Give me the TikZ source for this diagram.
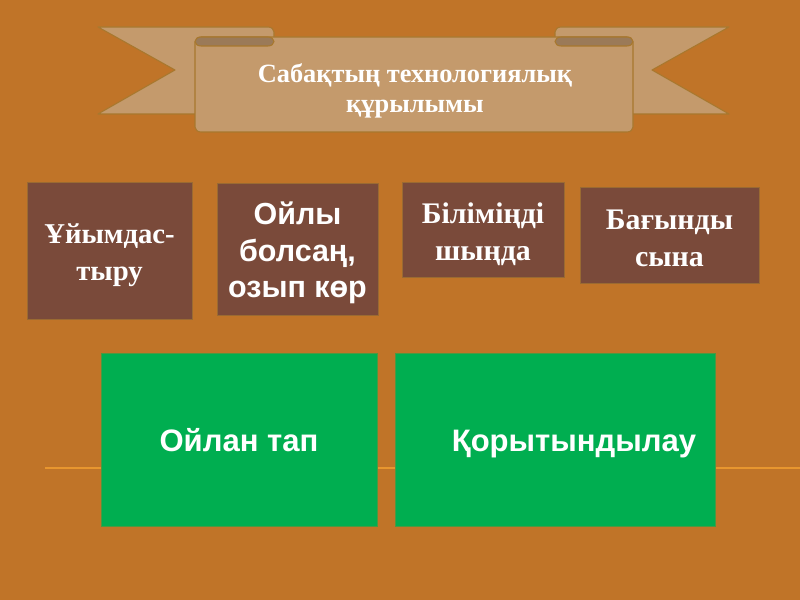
\documentclass[tikz,border=0pt]{standalone}
\usepackage{fontspec}
\setmainfont{Liberation Serif}
\newfontfamily\arialf{Liberation Sans}
\definecolor{bgc}{HTML}{C07428}
\definecolor{tanc}{HTML}{C49A6C}
\definecolor{foldc}{HTML}{9B7A58}
\definecolor{edgec}{HTML}{A8782E}
\definecolor{brownc}{HTML}{7A4A3A}
\definecolor{greenc}{HTML}{00AE50}
\definecolor{linec}{HTML}{E8962F}
\tikzset{
  brownbox/.style={draw=edgec!70!brownc, line width=0.6pt, fill=brownc, inner sep=0pt},
  greenbox/.style={draw=greenc!60!bgc, line width=0.8pt, fill=greenc, inner sep=0pt},
  boxtext/.style={text=white, align=center, inner sep=0pt},
  ribbonpart/.style={fill=tanc, draw=edgec, line width=0.9pt, line join=round},
  foldpart/.style={fill=foldc, draw=edgec, line width=0.9pt},
  serifbig/.style={font=\bfseries\fontsize{25.5}{31.5}\selectfont},
  sansbig/.style={font=\arialf\bfseries\fontsize{26}{31}\selectfont},
  sansgreen/.style={font=\arialf\bfseries\fontsize{26.5}{31}\selectfont},
}
\begin{document}
\begin{tikzpicture}[x=0.03cm, y=-0.03cm]
\fill[bgc] (0,0) rectangle (800,600);
\useasboundingbox (0,0) rectangle (800,600);
% horizontal line
\coordinate (la) at (45,468);
\coordinate (lb) at (800,468);
\draw[linec, line width=1.3pt] (la) -- (lb);
% ribbon tails
\draw[ribbonpart] (98,27) -- (268,27) arc[start angle=-90, end angle=0, x radius=6, y radius=5] -- (274,114) -- (98,114) -- (175,70) -- cycle;
\draw[ribbonpart] (729,27) -- (561,27) arc[start angle=-90, end angle=-180, x radius=6, y radius=5] -- (555,114) -- (729,114) -- (652,70) -- cycle;
% main band
\draw[ribbonpart] (201,37) -- (627,37) arc[start angle=-90, end angle=0, x radius=6, y radius=5] -- (633,127) arc[start angle=0, end angle=90, x radius=6, y radius=5] -- (201,132) arc[start angle=90, end angle=180, x radius=6, y radius=5] -- (195,42) arc[start angle=180, end angle=270, x radius=6, y radius=5] -- cycle;
% folds
\draw[foldpart] (201,37) -- (268,37) arc[start angle=-90, end angle=90, x radius=6, y radius=4.5] -- (201,46) arc[start angle=90, end angle=270, x radius=6, y radius=4.5] -- cycle;
\draw[foldpart] (627,37) -- (561,37) arc[start angle=-90, end angle=-270, x radius=6, y radius=4.5] -- (627,46) arc[start angle=90, end angle=-90, x radius=6, y radius=4.5] -- cycle;
\node[text=white, align=center, font=\bfseries\fontsize{22.5}{25}\selectfont] (title) at (415,91) {Сабақтың технологиялық\\құрылымы};
% brown boxes
\node[brownbox, minimum width=165*0.03cm, minimum height=137*0.03cm] (b1) at (109.5,250.5) {};
\node[brownbox, minimum width=161*0.03cm, minimum height=132*0.03cm] (b2) at (297.5,249) {};
\node[brownbox, minimum width=162*0.03cm, minimum height=95*0.03cm] (b3) at (483,229.5) {};
\node[brownbox, minimum width=179*0.03cm, minimum height=96*0.03cm] (b4) at (669.5,235) {};
\node[boxtext, font=\bfseries\fontsize{24.5}{31.5}\selectfont] (b1t) at (109.5,255) {Ұйымдас-\\тыру};
\node[boxtext, sansbig] (b2t) at (297.5,253) {Ойлы\\болсаң,\\озып көр};
\node[boxtext, serifbig] (b3t) at (483,234) {Біліміңді\\шыңда};
\node[boxtext, serifbig] (b4t) at (669.5,238) {Бағынды\\сына};
% green boxes
\node[greenbox, minimum width=276*0.03cm, minimum height=173*0.03cm] (g1) at (239,439.5) {};
\node[greenbox, minimum width=320*0.03cm, minimum height=173*0.03cm] (g2) at (555,439.5) {};
\node[boxtext, sansgreen, anchor=base] (t1) at (239,452) {Ойлан тап};
\node[boxtext, sansgreen, anchor=base] (t2) at (574,452) {Қорытындылау};
\end{tikzpicture}
\end{document}
